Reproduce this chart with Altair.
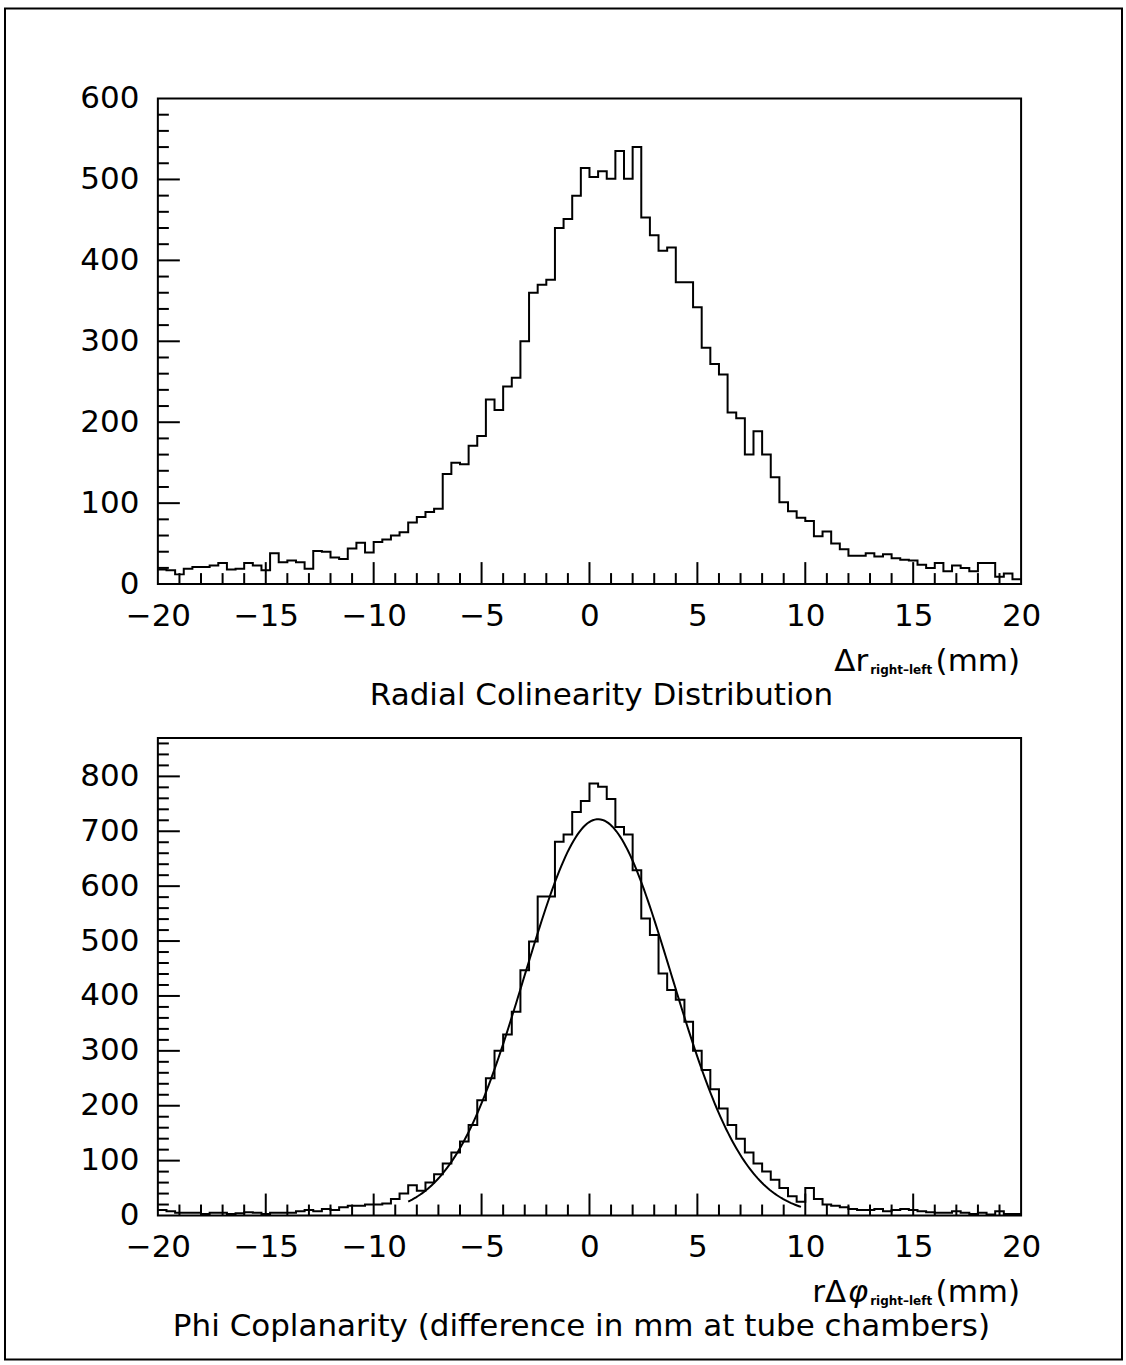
import altair as alt
import pandas as pd
import math

# ---------------- data ----------------
X_MIN, X_MAX, BIN_WIDTH = -20, 20, 0.4

RADIAL_COUNTS = [
    18, 17, 12, 19, 21, 21, 23, 26, 18, 19, 26, 23, 17, 38, 27, 29, 27, 19, 41, 40,
    33, 31, 44, 51, 39, 52, 55, 60, 64, 76, 83, 89, 93, 136, 150, 148, 171, 183, 228, 215,
    244, 255, 300, 360, 370, 376, 440, 451, 480, 514, 503, 510, 501, 535, 501, 540, 453, 431, 412, 416,
    373, 373, 342, 292, 272, 259, 212, 205, 160, 189, 160, 132, 101, 90, 82, 78, 59, 65, 50, 43,
    35, 35, 38, 34, 37, 32, 30, 29, 24, 20, 26, 16, 23, 20, 16, 26, 26, 9, 13, 6,
]

PHI_COUNTS = [
    10, 8, 5, 5, 5, 3, 5, 5, 3, 4, 6, 5, 3, 5, 5, 5, 8, 10, 8, 12,
    10, 15, 18, 18, 20, 20, 22, 30, 40, 55, 45, 60, 75, 95, 115, 135, 165, 210, 250, 300,
    330, 371, 447, 499, 581, 581, 681, 694, 735, 755, 787, 781, 759, 708, 694, 629, 541, 511, 441, 411,
    393, 353, 300, 265, 230, 195, 165, 140, 115, 95, 80, 65, 50, 35, 25, 50, 30, 20, 18, 15,
    12, 10, 10, 12, 8, 10, 12, 10, 8, 6, 5, 5, 8, 5, 3, 5, 2, 8, 3, 3,
]

# Gaussian fit drawn over the phi histogram
FIT_PEAK, FIT_MEAN, FIT_SIGMA = 722, 0.4, 3.4
FIT_FROM, FIT_TO = -8.4, 9.8

TOP_Y_MAX, BOT_Y_MAX = 600, 870
X_LABELS = [-20, -15, -10, -5, 0, 5, 10, 15, 20]
X_MAJOR_TICKS = [-15, -10, -5, 0, 5, 10, 15]
X_MINOR_TICKS = [v for v in range(-19, 20) if v % 5 != 0]
TOP_Y_LABELS = [0, 100, 200, 300, 400, 500, 600]
TOP_Y_MAJOR = [100, 200, 300, 400, 500]
TOP_Y_MINOR = [v for v in range(20, 600, 20) if v % 100 != 0]
BOT_Y_LABELS = [0, 100, 200, 300, 400, 500, 600, 700, 800]
BOT_Y_MAJOR = [100, 200, 300, 400, 500, 600, 700, 800]
BOT_Y_MINOR = [v for v in range(20, 870, 20) if v % 100 != 0]

TOP_TITLE = "Radial Colinearity Distribution"
BOT_TITLE = "Phi Coplanarity (difference in mm at tube chambers)"
TOP_XLABEL = ["Δr", "right–left", "(mm)"]
BOT_XLABEL = ["rΔ", "φ", "right–left", "(mm)"]

# ---------------- layout ----------------
W = 864
H_TOP = 486
H_BOT = 478
FONT = "DejaVu Sans"
FS = 31
XS = alt.Scale(domain=[X_MIN, X_MAX], nice=False, zero=False)


def step_frame(counts):
    edges = [X_MIN + BIN_WIDTH * i for i in range(len(counts) + 1)]
    vals = list(counts) + [counts[-1]]
    return pd.DataFrame({"x": edges, "y": vals})


def x_enc():
    return alt.X(
        "x:Q", scale=XS,
        axis=alt.Axis(
            values=X_LABELS, title=None, grid=False, domain=False, ticks=False,
            tickSize=0, labelFont=FONT, labelFontSize=FS, labelColor="black",
            labelPadding=17, labelFlush=False, labelOverlap=False, labelBound=False,
            labelBaseline="top",
        ),
    )


def y_enc(ymax, labels):
    return alt.Y(
        "y:Q",
        scale=alt.Scale(domain=[0, ymax], nice=False, zero=True),
        axis=alt.Axis(
            values=labels, title=None, grid=False, domain=False, ticks=False,
            tickSize=0, labelFont=FONT, labelFontSize=FS, labelColor="black",
            labelPadding=19, labelFlush=False, labelOverlap=False, labelBound=False,
        ),
    )


def panel(counts, ymax, ylabels, ymajor, yminor, h):
    ys = alt.Scale(domain=[0, ymax], nice=False, zero=True)
    hist = alt.Chart(step_frame(counts)).mark_line(
        interpolate="step-after", color="black", strokeWidth=2
    ).encode(x=x_enc(), y=y_enc(ymax, ylabels))

    xmaj = alt.Chart(pd.DataFrame({"x": X_MAJOR_TICKS})).mark_rule(color="black", strokeWidth=2).encode(
        x=alt.X("x:Q", scale=XS), y=alt.value(h), y2=alt.value(h - 22))
    xmin = alt.Chart(pd.DataFrame({"x": X_MINOR_TICKS})).mark_rule(color="black", strokeWidth=2).encode(
        x=alt.X("x:Q", scale=XS), y=alt.value(h), y2=alt.value(h - 11))
    ymaj = alt.Chart(pd.DataFrame({"y": ymajor})).mark_rule(color="black", strokeWidth=2).encode(
        y=alt.Y("y:Q", scale=ys), x=alt.value(0), x2=alt.value(22))
    ymin = alt.Chart(pd.DataFrame({"y": yminor})).mark_rule(color="black", strokeWidth=2).encode(
        y=alt.Y("y:Q", scale=ys), x=alt.value(0), x2=alt.value(11))
    return [hist, xmaj, xmin, ymaj, ymin]


def text(s, x, y, size=FS, align="left", style="normal", weight="normal"):
    return alt.Chart(pd.DataFrame({"t": [s]})).mark_text(
        font=FONT, fontSize=size, align=align, baseline="alphabetic", color="black",
        fontStyle=style, fontWeight=weight,
    ).encode(x=alt.value(x), y=alt.value(y), text="t:N")


# ---------------- top panel ----------------
top_layers = panel(RADIAL_COUNTS, TOP_Y_MAX, TOP_Y_LABELS, TOP_Y_MAJOR, TOP_Y_MINOR, H_TOP)
border = alt.Chart(pd.DataFrame({"b": [0]})).mark_rect(
    fill="white", fillOpacity=0, stroke="black", strokeWidth=2
).encode(x=alt.value(-153), x2=alt.value(965), y=alt.value(-90), y2=alt.value(1262))
top_layers += [
    border,
    text(TOP_XLABEL[0], 711, 573, align="right"),
    text(TOP_XLABEL[1], 775, 576, size=12, weight="bold", align="right"),
    text(TOP_XLABEL[2], 863, 573, align="right"),
    text(TOP_TITLE, 444, 607, align="center"),
]
top = alt.layer(*top_layers).properties(width=W, height=H_TOP)

# ---------------- bottom panel ----------------
bot_layers = panel(PHI_COUNTS, BOT_Y_MAX, BOT_Y_LABELS, BOT_Y_MAJOR, BOT_Y_MINOR, H_BOT)
fit_x = [FIT_FROM + (FIT_TO - FIT_FROM) * i / 200 for i in range(201)]
fit_df = pd.DataFrame({
    "x": fit_x,
    "y": [FIT_PEAK * math.exp(-((v - FIT_MEAN) ** 2) / (2 * FIT_SIGMA ** 2)) for v in fit_x],
})
fit = alt.Chart(fit_df).mark_line(color="black", strokeWidth=2).encode(
    x=alt.X("x:Q", scale=XS),
    y=alt.Y("y:Q", scale=alt.Scale(domain=[0, BOT_Y_MAX], nice=False, zero=True)),
)
bot_layers += [
    fit,
    text(BOT_XLABEL[0], 689, 565, align="right"),
    text(BOT_XLABEL[1], 711, 565, style="italic", align="right"),
    text(BOT_XLABEL[2], 775, 568, size=12, weight="bold", align="right"),
    text(BOT_XLABEL[3], 863, 565, align="right"),
    text(BOT_TITLE, 424, 599, align="center"),
]
bot = alt.layer(*bot_layers).properties(width=W, height=H_BOT)

chart = alt.vconcat(top, bot, spacing=154, bounds="flush").properties(
    padding={"left": 3, "top": 6, "right": 2, "bottom": 2},
    background="white",
).configure_view(stroke="black", strokeWidth=2)

chart.save("out.html", embed_options={"renderer": "svg", "actions": False})
